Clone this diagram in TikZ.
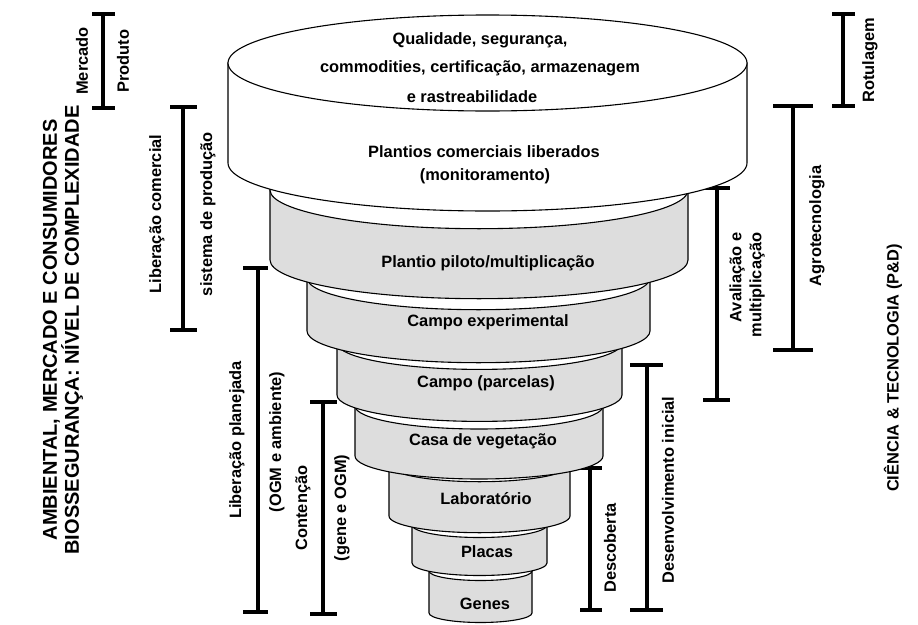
\documentclass[tikz,border=0pt]{standalone}
\usepackage{fontspec}
\setmainfont{Liberation Sans}
\definecolor{tiergray}{RGB}{221,221,221}
\tikzset{
  lbl/.style={font=\fontsize{16.4}{20}\selectfont\bfseries, inner sep=0pt, align=center},
  rlbl/.style={lbl, rotate=90},
  bar/.style={line width=4pt},
  rim/.style={draw=black, line width=1.1pt},
}
% cx, ytop, ybottom, rx, ry, body colour
\newcommand{\mytier}[6]{%
  \path[rim, fill=#6] (#1-#4,#2) -- (#1-#4,#3)
     arc[start angle=180, end angle=0, x radius=#4, y radius=#5]
     -- (#1+#4,#2) -- cycle;
  \path[rim, fill=white] (#1,#2) ellipse[x radius=#4, y radius=#5];
}
% name, x, ytop, ybottom, cap left, cap right
\newcommand{\mybracket}[6]{%
  \coordinate (#1t) at (#2,#3);
  \coordinate (#1b) at (#2,#4);
  \draw[bar] (#1t) -- (#1b);
  \draw[bar] ([xshift=-#5pt]#1t) -- ([xshift=#6pt]#1t);
  \draw[bar] ([xshift=-#5pt]#1b) -- ([xshift=#6pt]#1b);
}
\begin{document}
\begin{tikzpicture}[x=1pt,y=-1pt]
\useasboundingbox (0,0) rectangle (918,624);

% brackets
\mybracket{mp}{103}{14}{108}{11}{12}
\mybracket{lc}{183}{107}{330}{13}{14}
\mybracket{lp}{258}{268}{612}{15}{10}
\mybracket{ct}{323}{402}{614}{13}{14}
\mybracket{ds}{590}{468}{610}{10}{12}
\mybracket{di}{647}{365}{610}{17}{16}
\mybracket{av}{717}{188}{400}{14}{13}
\mybracket{ag}{793}{106}{350}{20}{20}
\mybracket{ro}{843}{14}{106}{11}{12}

% funnel tiers, bottom first
\mytier{480.5}{571}{613}{51.5}{9.5}{tiergray}
\mytier{479.5}{525}{563}{67.5}{12.5}{tiergray}
\mytier{479.5}{465}{516}{90.5}{16.7}{tiergray}
\mytier{479}{406}{456}{124}{23}{tiergray}
\mytier{479.5}{343}{395}{142.5}{26.4}{tiergray}
\mytier{478.5}{278}{331}{171.5}{31.7}{tiergray}
\mytier{479}{190}{260}{209}{38.7}{tiergray}
\mytier{487.5}{63}{163}{259.5}{48}{white}

% texts in the funnel
\node[lbl] (q1) at (480,40) {Qualidade, segurança,};
\node[lbl] (q2) at (480,68) {commodities, certificação, armazenagem};
\node[lbl] (q3) at (472,97) {e rastreabilidade};
\node[lbl] (p1) at (484,152) {Plantios comerciais liberados};
\node[lbl] (p2) at (485,176) {(monitoramento)};
\node[lbl] (t2) at (488,263) {Plantio piloto/multiplicação};
\node[lbl] (t3) at (488,322) {Campo experimental};
\node[lbl] (t4) at (486,383) {Campo (parcelas)};
\node[lbl] (t5) at (483,441) {Casa de vegetação};
\node[lbl] (t6) at (486,499) {Laboratório};
\node[lbl] (t7) at (487,552) {Placas};
\node[lbl] (t8) at (485,604) {Genes};

% left side labels
\node[rlbl, font=\fontsize{20}{18}\selectfont\bfseries] (amb) at (63,330)
  {AMBIENTAL, MERCADO E CONSUMIDORES\\BIOSSEGURANÇA: NÍVEL DE COMPLEXIDADE};
\node[rlbl] (mer) at (82,61) {Mercado};
\node[rlbl] (pro) at (123,61) {Produto};
\node[rlbl] (libc) at (157,214) {Liberação comercial};
\node[rlbl] (sis) at (208,214) {sistema de produção};
\node[rlbl] (libp) at (237,440) {Liberação planejada};
\node[rlbl] (ogm) at (277,442) {(OGM e ambiente)};
\node[rlbl] (con) at (303,508) {Contenção};
\node[rlbl] (gen) at (342,508) {(gene e OGM)};

% right side labels
\node[rlbl] (desc) at (610,548) {Descoberta};
\node[rlbl] (dev) at (668,490) {Desenvolvimento inicial};
\node[rlbl, align=right] (aval) at (747,285) {Avaliação e\\multiplicação};
\node[rlbl] (agro) at (817,226) {Agrotecnologia};
\node[rlbl] (rot) at (870,60) {Rotulagem};
\node[rlbl] (cie) at (893,368) {CIÊNCIA \& TECNOLOGIA (P\&D)};
\end{tikzpicture}
\end{document}
